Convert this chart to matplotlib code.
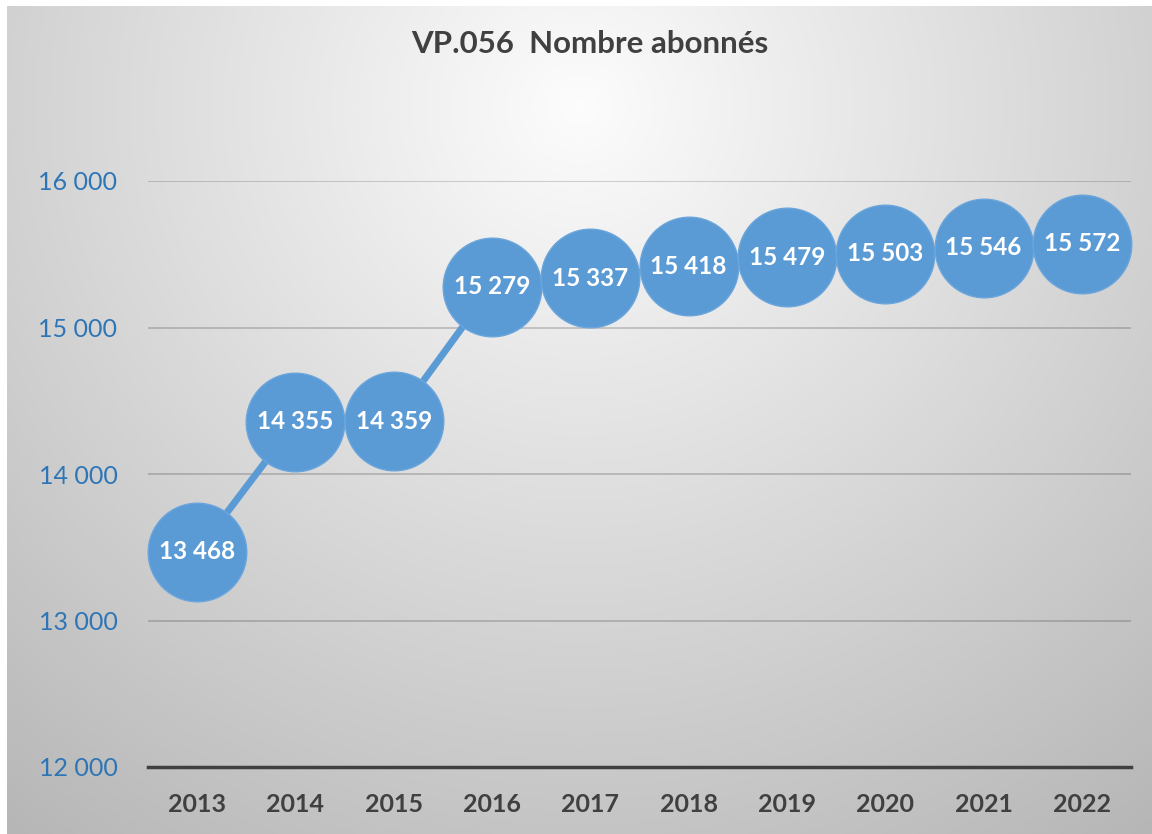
import numpy as np
import matplotlib
matplotlib.use("Agg")
import matplotlib.pyplot as plt

# Data
years = ["2013", "2014", "2015", "2016", "2017", "2018", "2019", "2020", "2021", "2022"]
abonnes = [13468, 14355, 14359, 15279, 15337, 15418, 15479, 15503, 15546, 15572]
yticks = [12000, 13000, 14000, 15000, 16000]
ytick_labels = ["12 000", "13 000", "14 000", "15 000", "16 000"]
title = "VP.056  Nombre abonnés"

plt.rcParams['font.family'] = ['Lato', 'DejaVu Sans']

fig = plt.figure(figsize=(11.52, 8.34), dpi=100)
fig.patch.set_facecolor("white")

# radial grey gradient background
bg = fig.add_axes([7/1152, 0, 1 - 7/1152, 1 - 6/834], zorder=-10)
gx, gy = np.meshgrid(np.linspace(0, 1, 400), np.linspace(0, 1, 300))
r = np.sqrt(((gx - 0.5) / 0.75) ** 2 + ((gy - 0.12) / 1.0) ** 2)
shade = 0.99 - 0.25 * np.clip(r, 0, 1.2)
bg.imshow(np.dstack([shade] * 3), aspect="auto", interpolation="bicubic",
          extent=[0, 1, 1, 0])
bg.axis("off")

ax = fig.add_axes([148/1152, 1 - 767/834, (1131 - 148)/1152, (767 - 181)/834])
ax.patch.set_alpha(0)
x = np.arange(len(years))
ax.plot(x, abonnes, color="#5b9bd5", lw=5, marker="o", markersize=71,
        markerfacecolor="#5b9bd5", markeredgecolor="#6aa5dc", markeredgewidth=1,
        clip_on=False, zorder=3)
for xi, v in zip(x, abonnes):
    ax.text(xi, v, f"{v:,}".replace(",", " "), ha="center", va="center",
            color="white", fontsize=17.5, fontweight="bold", zorder=4)

ax.set_xlim(-0.5, len(years) - 0.5)
ax.set_ylim(12000, 16000)
ax.set_yticks(yticks)
ax.set_yticklabels(ytick_labels, color="#2e75b6", fontsize=18)
ax.set_xticks(x)
ax.set_xticklabels(years, color="#404040", fontsize=18, fontweight="bold")
ax.tick_params(length=0)
ax.tick_params(axis="y", pad=22)
ax.tick_params(axis="x", pad=19)
ax.grid(axis="y", color="#000000", alpha=0.2, lw=1.2)
for s in ["top", "right", "left"]:
    ax.spines[s].set_visible(False)
ax.spines["bottom"].set_color("#404040")
ax.spines["bottom"].set_linewidth(2.5)
ax.set_axisbelow(True)

fig.text(590/1152, 1 - 44/834, title, ha="center", va="center",
         fontsize=22.5, fontweight="bold", color="#404040")

fig.savefig("out.png", dpi=100)
